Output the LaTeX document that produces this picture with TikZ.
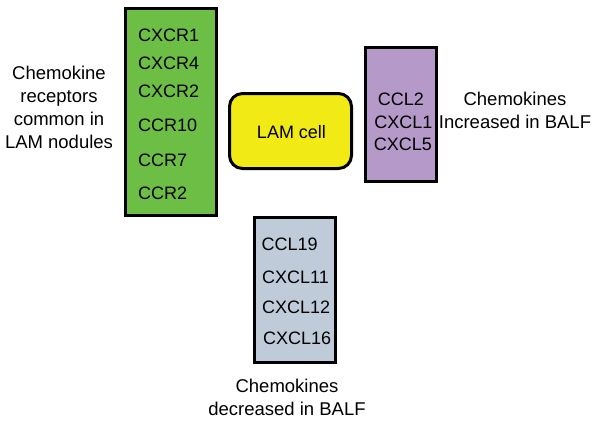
\documentclass[tikz,border=0pt]{standalone}
\usepackage{fontspec}
\setmainfont{Liberation Sans}
\usetikzlibrary{positioning}
\tikzstyle{listbox} =[draw=black, line width=3pt, inner sep=0pt]
\tikzstyle{gene} =[font=\fontsize{18}{20}\selectfont, inner sep=0pt]
\tikzstyle{caption} =[font=\fontsize{18.5}{22.7}\selectfont, align=center, inner sep=0pt]
\definecolor{recGreen}{RGB}{108,190,69}
\definecolor{cellYellow}{RGB}{242,234,20}
\definecolor{balfPurple}{RGB}{181,153,200}
\definecolor{balfGrey}{RGB}{192,203,218}

\begin{document}
\begin{tikzpicture}[x=1pt, y=-1pt]
\useasboundingbox (0,0) rectangle (600,421);

\node (recBox) [listbox, fill=recGreen, minimum width=91pt, minimum height=207pt] at (171,111.5) {};
\node (cxcrOne) [gene, anchor=base west] at (138,41) {CXCR1};
\node (cxcrFour) [gene, anchor=base west] at (138,69) {CXCR4};
\node (cxcrTwo) [gene, anchor=base west] at (138,97) {CXCR2};
\node (ccrTen) [gene, anchor=base west] at (138,131.5) {CCR10};
\node (ccrSeven) [gene, anchor=base west] at (138,166) {CCR7};
\node (ccrTwo) [gene, anchor=base west] at (138,199.5) {CCR2};
% base of a multi-line caption sits on its last line
\node (recTitle) [caption, anchor=base] at (59,148) {Chemokine\\receptors\\common in\\LAM nodules};

\node (lamCell) [draw=black, line width=3pt, fill=cellYellow, rounded corners=13pt, minimum width=122pt, minimum height=75pt] at (290.5,131) {};
\node (lamTitle) [gene, anchor=base] at (291.5,138) {LAM cell};

\node (upBox) [listbox, fill=balfPurple, minimum width=71pt, minimum height=134pt] at (401,114.5) {};
\node (cclTwo) [gene, anchor=base] at (401,105) {CCL2};
\node (cxclOne) [gene, anchor=base] at (403.5,128) {CXCL1};
\node (cxclFive) [gene, anchor=base] at (403,150) {CXCL5};
\node (upTitle) [caption, anchor=base] at (515,128) {Chemokines\\Increased in BALF};

\node (downBox) [listbox, fill=balfGrey, minimum width=81pt, minimum height=145pt] at (295,290) {};
\node (cclNineteen) [gene, anchor=base west] at (261.5,250.5) {CCL19};
\node (cxclEleven) [gene, anchor=base west] at (262,283.5) {CXCL11};
\node (cxclTwelve) [gene, anchor=base west] at (262,313) {CXCL12};
\node (cxclSixteen) [gene, anchor=base west] at (263,344) {CXCL16};
\node (downTitle) [caption, anchor=base] at (287,415) {Chemokines\\decreased in BALF};
\end{tikzpicture}
\end{document}
